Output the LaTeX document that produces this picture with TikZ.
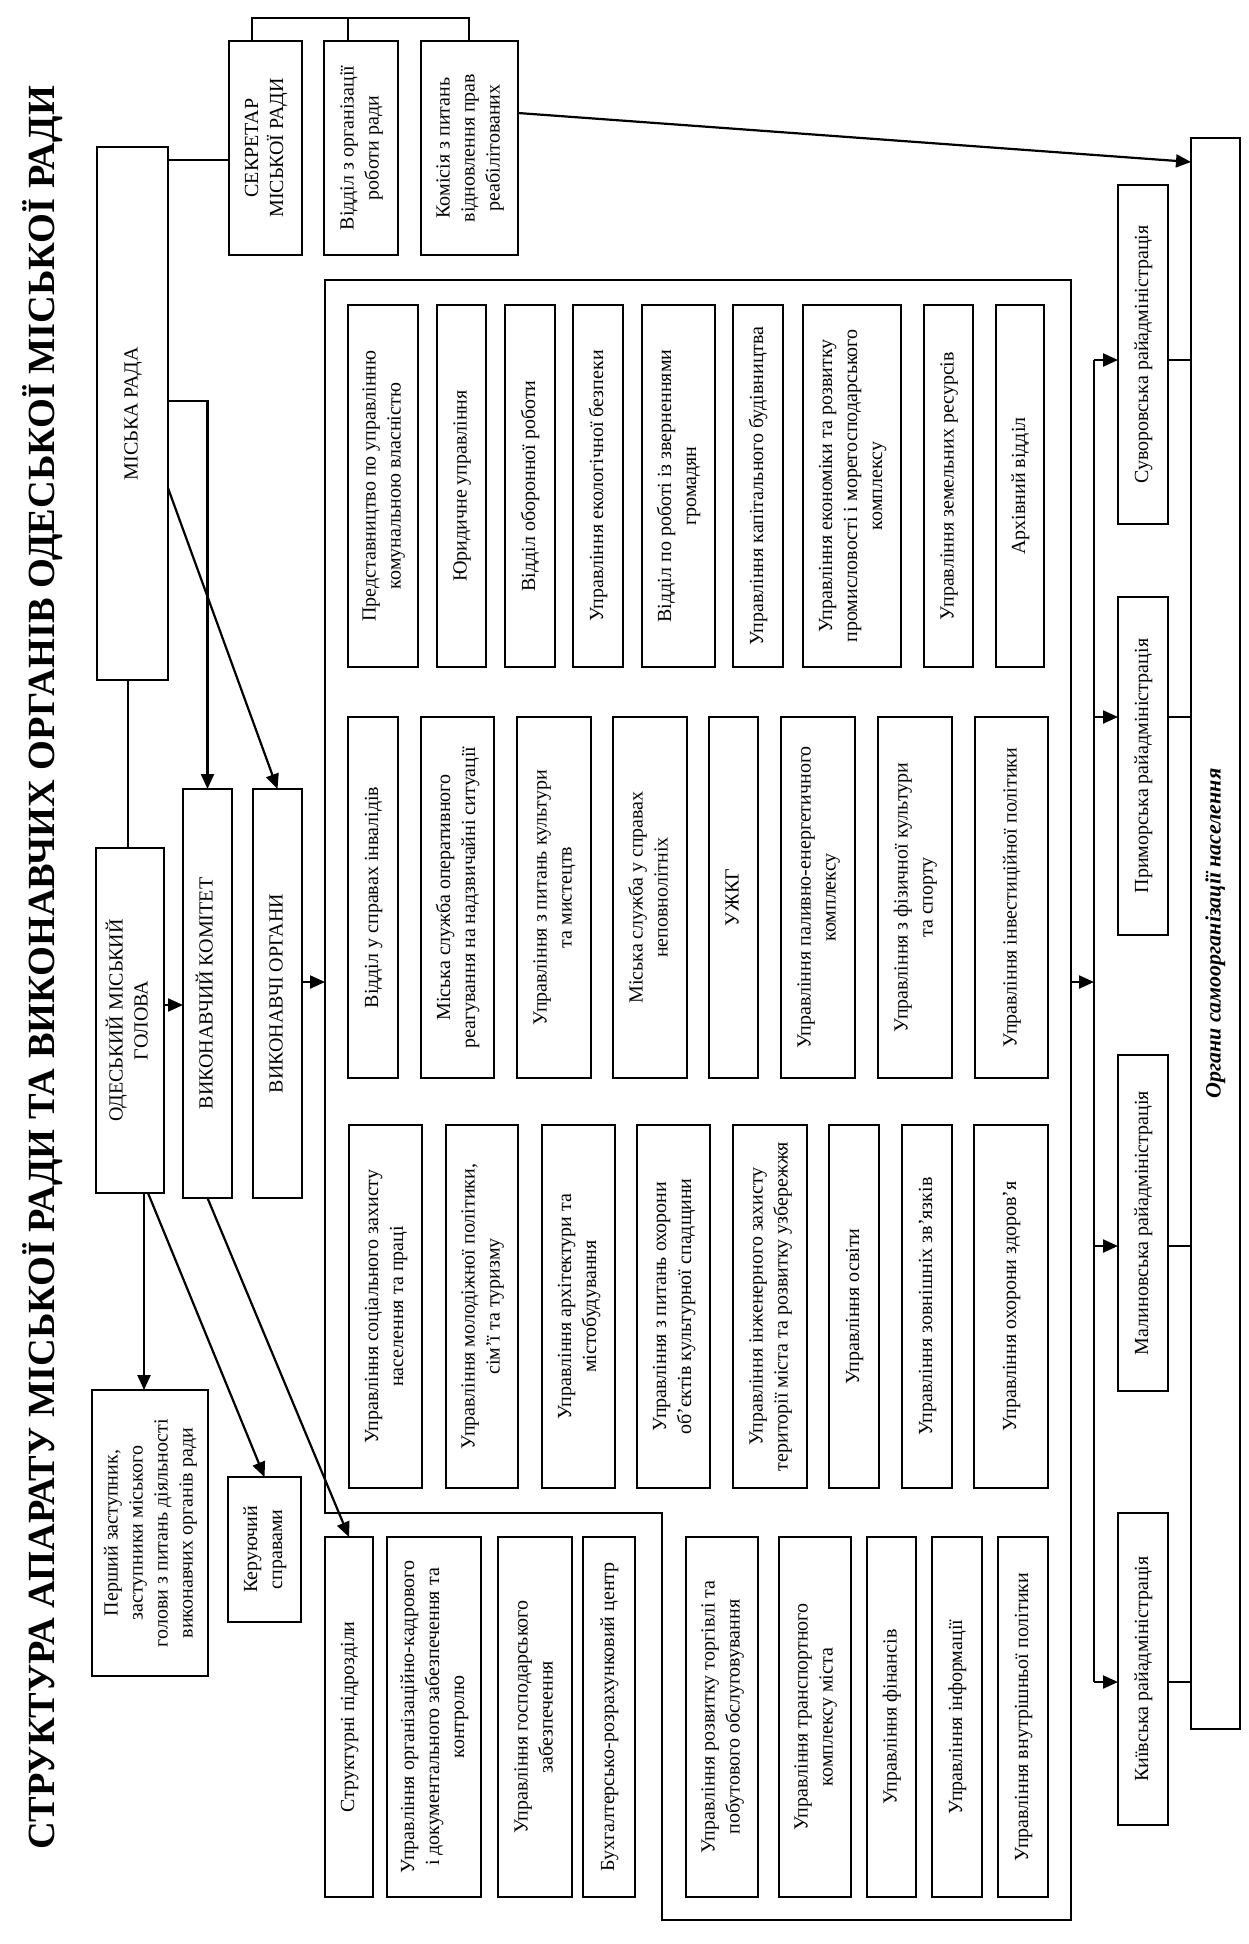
\documentclass[tikz,border=0pt]{standalone}
\usepackage{fontspec}
\setmainfont{Liberation Serif}
\usetikzlibrary{arrows.meta}
\tikzset{
  box/.style={draw, line width=1.25pt, inner sep=0pt, outer sep=0pt, rectangle, anchor=center, font=\fontsize{10}{12.5}\selectfont},
  arr/.style={-{Triangle[length=7.5pt,width=6.5pt]}, line width=1.1pt},
  ln/.style={line width=1.1pt},
  frame/.style={line width=1.25pt},
}
\newcommand{\rt}[1]{\rotatebox{90}{\begin{tabular}{@{}c@{}}#1\end{tabular}}}
\newcommand{\B}[6]{\node[box, minimum width={(#4-#2)*0.5pt}, minimum height={(#5-#3)*0.5pt}] (#1) at ({(#2+#4)/2},{(#3+#5)/2}) {\rt{#6}};}
\begin{document}
\begin{tikzpicture}[x=0.5pt,y=-0.5pt]
\useasboundingbox (0,0) rectangle (1248,1944);
\fill[white] (0,0) rectangle (1248,1944);

% title
\node[font=\fontsize{19.2}{21}\selectfont\bfseries, inner sep=0pt] (title) at (43,968)
  {\rotatebox{90}{СТРУКТУРА АПАРАТУ МІСЬКОЇ РАДИ ТА ВИКОНАВЧИХ ОРГАНІВ ОДЕСЬКОЇ МІСЬКОЇ РАДИ}};

% top boxes
\B{sek}{229}{41}{302}{255}{СЕКРЕТАР\\МІСЬКОЇ РАДИ}
\B{vid}{324}{41}{398}{255}{Відділ з організації\\роботи ради}
\B{kom}{421}{41}{518}{255}{Комісія з питань\\відновлення прав\\реабілітованих}

% main chain
\B{rada}{97}{147}{168}{680}{МІСЬКА РАДА}
\B{hol}{96}{848}{164}{1193}{ОДЕСЬКИЙ МІСЬКИЙ\\ГОЛОВА}
\B{vk}{183}{789}{232}{1198}{ВИКОНАВЧИЙ КОМІТЕТ}
\B{vo}{253}{789}{302}{1198}{ВИКОНАВЧІ ОРГАНИ}
\B{per}{92}{1390}{208}{1676}{Перший заступник,\\заступники міського\\голови з питань діяльності\\виконавчих органів ради}
\B{ker}{228}{1477}{301}{1622}{Керуючий\\справами}

% row 1
\B{r1a}{348}{305}{418}{667}{Представництво по управлінню\\комунальною власністю}
\B{r1b}{437}{305}{486}{667}{Юридичне управління}
\B{r1c}{505}{305}{555}{667}{Відділ оборонної роботи}
\B{r1d}{573}{305}{623}{667}{Управління екологічної безпеки}
\B{r1e}{642}{305}{715}{667}{Відділ по роботі із зверненнями\\громадян}
\B{r1f}{733}{305}{783}{667}{Управління капітального будівництва}
\B{r1g}{803}{305}{901}{667}{Управління економіки та розвитку\\промисловості і морегосподарського\\комплексу}
\B{r1h}{924}{305}{973}{667}{Управління земельних ресурсів}
\B{r1i}{996}{305}{1044}{667}{Архівний відділ}

% row 2
\B{r2a}{348}{717}{398}{1078}{Відділ у справах інвалідів}
\B{r2b}{421}{717}{494}{1078}{Міська служба оперативного\\реагування на надзвичайні ситуації}
\B{r2c}{517}{717}{591}{1078}{Управління з питань культури\\та мистецтв}
\B{r2d}{613}{717}{687}{1078}{Міська служба у справах\\неповнолітніх}
\B{r2e}{709}{717}{758}{1078}{УЖКГ}
\B{r2f}{781}{717}{855}{1078}{Управління паливно-енергетичного\\комплексу}
\B{r2g}{878}{717}{952}{1078}{Управління з фізичної культури\\та спорту}
\B{r2h}{975}{717}{1048}{1078}{Управління інвестиційної політики}

% row 3
\B{r3a}{349}{1125}{422}{1488}{Управління соціального захисту\\населення та праці}
\B{r3b}{446}{1125}{518}{1488}{Управління молодіжної політики,\\сім'ї та туризму}
\B{r3c}{542}{1125}{615}{1488}{Управління архітектури та\\містобудування}
\B{r3d}{637}{1125}{710}{1488}{Управління з питань охорони\\об'єктів культурної спадщини}
\B{r3e}{733}{1125}{807}{1488}{Управління інженерного захисту\\території міста та розвитку узбережжя}
\B{r3f}{829}{1125}{879}{1488}{Управління освіти}
\B{r3g}{902}{1125}{952}{1488}{Управління зовнішніх зв'язків}
\B{r3h}{974}{1125}{1048}{1488}{Управління охорони здоров'я}

% row 4
\B{str}{325}{1537}{373}{1897}{Структурні підрозділи}
\B{r4a}{387}{1537}{481}{1897}{Управління організаційно-кадрового\\і документального забезпечення та\\контролю}
\B{r4b}{498}{1537}{572}{1897}{Управління господарського\\забезпечення}
\B{r4c}{583}{1537}{635}{1897}{Бухгалтерсько-розрахунковий центр}
\B{r4d}{686}{1537}{758}{1897}{Управління розвитку торгівлі та\\побутового обслуговування}
\B{r4e}{779}{1537}{851}{1897}{Управління транспортного\\комплексу міста}
\B{r4f}{867}{1537}{916}{1897}{Управління фінансів}
\B{r4g}{932}{1537}{982}{1897}{Управління інформації}
\B{r4h}{998}{1537}{1048}{1897}{Управління внутрішньої політики}

% districts
\B{suv}{1118}{185}{1168}{524}{Суворовська райадміністрація}
\B{pry}{1118}{597}{1168}{935}{Приморська райадміністрація}
\B{mal}{1118}{1055}{1168}{1391}{Малиновська райадміністрація}
\B{kyi}{1118}{1513}{1168}{1825}{Київська райадміністрація}
\B{org}{1191}{138}{1240}{1729}{\fontsize{11}{13}\selectfont\bfseries\itshape Органи самоорганізації населення}

% container of executive bodies
\coordinate (cTL) at (325,280);
\coordinate (cTR) at (1071,280);
\coordinate (cBR) at (1071,1920);
\coordinate (cBM) at (662,1920);
\coordinate (cMM) at (662,1513);
\coordinate (cBL) at (325,1513);
\draw[frame] (cTL) -- (cTR) -- (cBR) -- (cBM) -- (cMM) -- (cBL) -- cycle;

% helper coordinates
\coordinate (brL) at (252,18);
\coordinate (brM) at (348,18);
\coordinate (brR) at (469,18);
\coordinate (h160) at (0,160);
\coordinate (h401) at (0,401);
\coordinate (h488) at (0,488);
\coordinate (h1005) at (0,1005);
\coordinate (h982) at (0,982);
\coordinate (h113) at (0,113);
\coordinate (h162) at (0,162);
\coordinate (h717) at (0,717);
\coordinate (h1246) at (0,1246);
\coordinate (v144) at (144,0);
\coordinate (v148) at (148,0);
\coordinate (v128) at (128,0);
\coordinate (busT) at (1094,360);
\coordinate (busB) at (1094,1682);

% bracket over top boxes
\draw[ln] (sek.north -| brL) -- (brL) -- (brR) -- (kom.north -| brR);
\draw[ln] (vid.north -| brM) -- (brM);

% connectors
\draw[ln] (rada.east |- h160) -- (sek.west |- h160);
\draw[arr] (rada.east |- h401) -| (vk.north);
\draw[arr] (rada.east |- h488) -- (vo.north);
\draw[ln] (rada.south -| v128) -- (hol.north -| v128);
\draw[arr] (hol.east |- h1005) -- (vk.west |- h1005);
\draw[arr] (vo.east |- h982) -- (cTL |- h982);
\draw[arr] (hol.south -| v144) -- (per.north -| v144);
\draw[arr] (hol.south -| v148) -- (ker.north);
\draw[arr] (vk.south) -- (str.north);
\draw[arr] (kom.east |- h113) -- (org.west |- h162);

% bus to districts
\draw[arr] (cTR |- h982) -- (busT |- h982);
\draw[ln] (busT) -- (busB);
\draw[arr] (busT) -- (suv.west |- busT);
\draw[arr] (busT |- h717) -- (pry.west |- h717);
\draw[arr] (busT |- h1246) -- (mal.west |- h1246);
\draw[arr] (busB) -- (kyi.west |- busB);
\draw[ln] (suv.east |- busT) -- (org.west |- busT);
\draw[ln] (pry.east |- h717) -- (org.west |- h717);
\draw[ln] (mal.east |- h1246) -- (org.west |- h1246);
\draw[ln] (kyi.east |- busB) -- (org.west |- busB);
\end{tikzpicture}
\end{document}
